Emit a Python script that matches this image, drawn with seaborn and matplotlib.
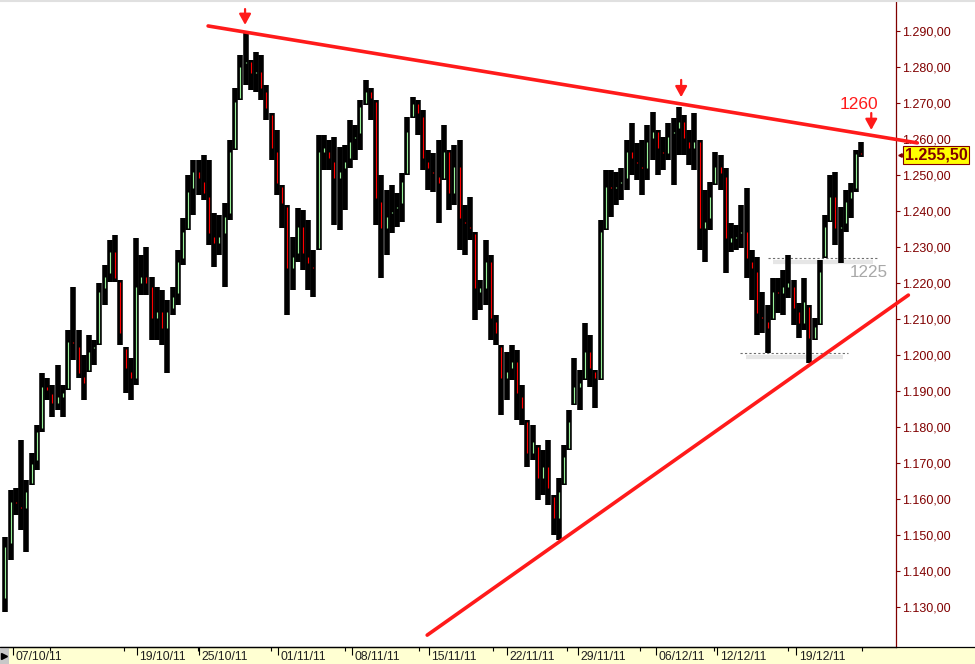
import numpy as np
import matplotlib
matplotlib.use("Agg")
import matplotlib.pyplot as plt
import seaborn as sns
from matplotlib.patches import Rectangle
from matplotlib.lines import Line2D
from matplotlib.transforms import blended_transform_factory, ScaledTranslation

sns.set_theme(style="white")
plt.rcParams['font.family'] = ['Liberation Sans', 'DejaVu Sans']

# intraday bars, 3 per session
open0 = 1131.9
high = [
    1149.4, 1162.4, 1163.0, 1176.3, 1165.2, 1172.7, 1180.5, 1195.0, 1193.6, 1191.6,
    1197.2, 1191.6, 1206.9, 1218.8, 1206.9, 1199.9, 1205.5, 1204.1, 1220.0, 1225.0,
    1231.9, 1233.3, 1220.8, 1202.2, 1199.1, 1232.5, 1227.7, 1230.0, 1221.6, 1218.8,
    1218.0, 1215.2, 1218.8, 1229.1, 1238.0, 1250.0, 1254.1, 1254.1, 1255.5, 1254.1,
    1239.4, 1238.9, 1242.2, 1259.7, 1274.1, 1283.3, 1289.4, 1281.9, 1284.2, 1283.3,
    1275.0, 1267.2, 1262.5, 1247.2, 1241.6, 1232.7, 1240.8, 1240.2, 1237.5, 1229.1,
    1261.1, 1261.1, 1259.7, 1260.5, 1257.8, 1258.3, 1265.3, 1263.9, 1270.8, 1276.4,
    1274.1, 1270.8, 1250.0, 1245.8, 1247.2, 1245.0, 1250.5, 1266.1, 1271.6, 1270.8,
    1268.0, 1256.9, 1256.1, 1259.7, 1263.9, 1256.9, 1258.3, 1259.7, 1241.6, 1243.8,
    1234.1, 1220.8, 1231.9, 1227.7, 1211.1, 1202.7, 1200.8, 1202.7, 1201.3, 1191.6,
    1181.9, 1180.5, 1174.9, 1173.5, 1176.3, 1161.0, 1165.8, 1174.9, 1184.7, 1199.1,
    1195.8, 1208.8, 1205.5, 1195.8, 1237.5, 1251.4, 1251.4, 1250.8, 1251.9, 1259.7,
    1264.4, 1258.9, 1259.7, 1263.9, 1267.5, 1262.5, 1260.5, 1264.4, 1265.8, 1268.9,
    1266.6, 1262.5, 1267.2, 1259.7, 1245.8, 1248.0, 1256.4, 1255.5, 1251.9, 1236.6,
    1236.1, 1241.6, 1246.4, 1229.1, 1227.2, 1217.5, 1213.8, 1221.3, 1221.3, 1223.6,
    1227.7, 1220.8, 1214.4, 1221.3, 1213.8, 1210.2, 1226.3, 1238.9, 1250.0, 1250.8,
    1241.1, 1245.8, 1247.7, 1256.9, 1259.1]
low = [
    1128.5, 1143.0, 1155.5, 1151.3, 1145.2, 1163.8, 1168.0, 1178.5, 1187.5, 1182.7,
    1184.7, 1182.7, 1190.2, 1198.6, 1193.6, 1187.5, 1195.2, 1197.2, 1202.7, 1213.8,
    1220.2, 1220.2, 1202.7, 1189.4, 1187.5, 1191.6, 1216.6, 1216.6, 1204.1, 1204.1,
    1202.7, 1195.0, 1211.1, 1213.8, 1225.0, 1234.7, 1238.9, 1244.4, 1243.0, 1230.5,
    1224.4, 1227.7, 1218.8, 1237.5, 1256.9, 1270.8, 1275.0, 1273.6, 1273.0, 1270.8,
    1265.3, 1254.1, 1244.4, 1235.2, 1211.1, 1218.0, 1225.8, 1223.6, 1218.0, 1216.1,
    1229.1, 1251.4, 1251.4, 1236.1, 1234.7, 1240.2, 1251.9, 1254.1, 1256.9, 1269.4,
    1265.3, 1236.1, 1221.3, 1227.7, 1233.9, 1235.5, 1236.9, 1250.0, 1265.8, 1261.1,
    1251.4, 1245.8, 1245.2, 1236.6, 1248.6, 1240.2, 1241.6, 1229.1, 1227.7, 1231.9,
    1209.7, 1212.5, 1213.8, 1204.1, 1202.7, 1183.3, 1187.5, 1193.0, 1181.9, 1180.5,
    1168.8, 1170.8, 1159.7, 1161.0, 1158.3, 1149.9, 1148.5, 1163.8, 1173.5, 1186.1,
    1184.7, 1193.0, 1191.1, 1185.2, 1193.0, 1234.7, 1238.3, 1241.6, 1243.0, 1245.8,
    1250.0, 1248.6, 1244.4, 1248.6, 1254.1, 1250.0, 1251.4, 1254.1, 1247.2, 1255.5,
    1255.5, 1252.7, 1251.4, 1229.1, 1225.8, 1234.7, 1247.2, 1245.8, 1222.7, 1228.6,
    1229.1, 1229.7, 1221.3, 1215.2, 1205.5, 1206.1, 1200.5, 1209.7, 1211.6, 1211.1,
    1215.8, 1208.3, 1204.7, 1206.9, 1197.7, 1204.1, 1208.3, 1226.9, 1236.9, 1230.5,
    1225.5, 1234.1, 1238.0, 1245.2, 1255.0]
close = [
    1147.1, 1159.7, 1158.3, 1156.9, 1162.4, 1170.2, 1179.1, 1191.6, 1189.7, 1186.1,
    1188.8, 1188.8, 1204.1, 1202.7, 1194.4, 1191.6, 1201.3, 1202.7, 1218.0, 1222.2,
    1229.1, 1220.8, 1205.5, 1195.8, 1193.0, 1219.4, 1222.2, 1219.4, 1209.7, 1212.5,
    1206.9, 1212.5, 1216.6, 1226.3, 1234.7, 1245.8, 1251.4, 1248.6, 1244.4, 1233.3,
    1230.5, 1233.3, 1238.9, 1256.9, 1270.8, 1280.5, 1281.9, 1277.8, 1279.1, 1273.6,
    1268.0, 1256.9, 1247.2, 1241.6, 1223.6, 1227.7, 1236.1, 1227.7, 1225.0, 1223.6,
    1256.9, 1256.9, 1254.1, 1248.6, 1251.4, 1254.1, 1259.7, 1261.1, 1269.4, 1273.6,
    1270.8, 1243.0, 1234.7, 1238.9, 1240.2, 1241.6, 1248.6, 1262.5, 1270.3, 1266.6,
    1254.1, 1251.4, 1250.0, 1247.2, 1256.9, 1244.4, 1252.7, 1237.5, 1236.1, 1234.7,
    1218.0, 1218.0, 1226.3, 1209.7, 1205.5, 1193.0, 1195.8, 1198.6, 1188.8, 1184.7,
    1172.2, 1176.3, 1165.2, 1169.4, 1162.4, 1154.1, 1162.4, 1172.2, 1181.9, 1191.6,
    1191.6, 1201.3, 1195.8, 1193.0, 1234.7, 1247.2, 1245.8, 1247.2, 1248.6, 1256.9,
    1254.1, 1252.7, 1251.4, 1259.7, 1262.5, 1256.9, 1255.5, 1261.1, 1262.5, 1265.3,
    1259.7, 1256.9, 1259.7, 1234.7, 1237.5, 1244.4, 1252.7, 1250.0, 1231.9, 1231.9,
    1233.3, 1234.7, 1226.3, 1223.6, 1211.1, 1209.7, 1206.9, 1218.0, 1216.6, 1219.4,
    1219.4, 1212.5, 1208.3, 1215.2, 1204.1, 1208.3, 1223.6, 1236.1, 1244.4, 1234.7,
    1236.1, 1243.0, 1245.8, 1256.4, 1255.5]

date_labels = ['07/10/11', '19/10/11', '25/10/11', '01/11/11', '08/11/11', '15/11/11',
               '22/11/11', '29/11/11', '06/12/11', '12/12/11', '19/12/11']
date_pos = [1.0, 8.9, 12.85, 17.9, 22.6, 27.55, 32.5, 37.05, 42.05, 45.95, 51.0]
price_ticks = list(range(1130, 1291, 10))

trend_top_x = [13.44, 58.73]
trend_top_y = [1291.4, 1258.9]
trend_bot_x = [27.43, 58.16]
trend_bot_y = [1122.1, 1216.6]
resist_level = 1226.9
support_level = 1200.5
last_price = 1255.5

W, H = 975, 664
fig = plt.figure(figsize=(W / 100, H / 100), dpi=100)
fig.patch.set_facecolor('white')
ax = fig.add_axes([0, 17 / H, 896 / W, 645 / H])
ax.set_facecolor('white')
ax.set_xlim(0.15, 57.37)
ax.set_ylim(1118.8, 1298.06)

hi = np.array(high)
lo = np.array(low)
cl = np.array(close)
op = np.concatenate([[open0], cl[:-1]])
x = 0.5 + np.arange(len(cl)) / 3.0

# support / resistance dashes with a soft shadow, behind bars
ax.plot([49.5, 55.9], [resist_level - 1.2] * 2, color='#e6e6e6', lw=3.0, zorder=1,
        solid_capstyle='butt')
ax.plot([49.17, 56.18], [resist_level] * 2, color='#6e6e6e', lw=0.8, ls=(0, (2, 2)), zorder=1.5)
ax.plot([47.8, 54.0], [support_level - 1.2] * 2, color='#e6e6e6', lw=3.0, zorder=1,
        solid_capstyle='butt')
ax.plot([47.42, 54.33], [support_level] * 2, color='#6e6e6e', lw=0.8, ls=(0, (2, 2)), zorder=1.5)

# candles: thick black range, thin coloured body
ax.vlines(x, lo, hi, color='black', lw=4.0, zorder=2)
b_lo = np.clip(np.minimum(op, cl), lo, hi)
b_hi = np.clip(np.maximum(op, cl), lo, hi)
up = cl >= op
ax.vlines(x[up], b_lo[up] + 0.5, b_hi[up] - 0.5, color='#98f098', lw=0.85, zorder=3)
ax.vlines(x[~up], b_lo[~up] + 0.5, b_hi[~up] - 0.5, color='#ff0000', lw=0.85, zorder=3)

# trend lines
sns.lineplot(x=trend_top_x, y=trend_top_y, ax=ax, color='#ff1a1a', linewidth=2.6,
             clip_on=False, zorder=4, legend=False)
sns.lineplot(x=trend_bot_x, y=trend_bot_y, ax=ax, color='#ff1a1a', linewidth=2.6,
             clip_on=False, zorder=4, legend=False)

# arrows and notes
arrow_kw = dict(arrowstyle='-|>,head_length=0.4,head_width=0.22', color='#ff1a1a',
                lw=1.6, mutation_scale=16, shrinkA=0, shrinkB=0)
for ax_x, y0, y1 in [(15.80, 1296.1, 1291.7), (43.65, 1276.4, 1271.6), (55.79, 1267.2, 1262.5)]:
    ax.annotate('', xy=(ax_x, y1), xytext=(ax_x, y0), arrowprops=arrow_kw,
                annotation_clip=False, zorder=5)
ax.text(55.02, 1269.6, '1260', color='#ff1a1a', fontsize=12.5, ha='center', va='center',
        zorder=5)
ax.text(54.40, 1223.0, '1225', color='#a8a8a8', fontsize=12.3, ha='left', va='center',
        zorder=5)

# last price tag on the axis
trans = blended_transform_factory(ax.transAxes, ax.transData)
ax.text(1 + 8.5 / 896, last_price, '1.255,50', transform=trans, ha='left', va='center',
        fontsize=11.5, fontweight='bold', color='#800000', clip_on=False, zorder=7,
        bbox=dict(boxstyle='square,pad=0.1', fc='#ffff00', ec='#800000', lw=0.8))
ax.plot([1 + 3.5 / 896], [last_price], marker='<', ms=2.5, color='#800000',
        transform=trans, clip_on=False, zorder=7)

# axes styling
for side in ['left', 'top']:
    ax.spines[side].set_visible(False)
ax.spines['right'].set_color('#800000')
ax.spines['right'].set_linewidth(0.9)
ax.spines['bottom'].set_color('black')
ax.spines['bottom'].set_linewidth(0.9)

ax.yaxis.tick_right()
ax.set_yticks(price_ticks, labels=[f"1.{v - 1000:03d},00" for v in price_ticks])
ax.tick_params(axis='y', which='major', direction='out', length=3, width=0.8,
               color='#800000', labelcolor='#800000', labelsize=9, pad=1.5, right=True,
               left=False)

ax.set_xticks(date_pos, labels=date_labels)
ax.set_xticks(np.arange(3.34, 57.3, 4.714), minor=True)
ax.tick_params(axis='x', which='major', direction='out', length=5.5, width=0.8,
               color='black', labelcolor='#202020', labelsize=8.7, pad=-2.5, bottom=True)
ax.tick_params(axis='x', which='minor', direction='out', length=3, width=0.8,
               color='black', bottom=True)
offset = ScaledTranslation(2.5 / 100, 0, fig.dpi_scale_trans)
for lab in ax.get_xticklabels():
    lab.set_horizontalalignment('left')
    lab.set_transform(lab.get_transform() + offset)
ax.grid(False)

# bottom band, top rule, scroll box
fig.add_artist(Rectangle((0, 0), 1, 17 / H, transform=fig.transFigure,
                         fc='#ffffd2', ec='none', zorder=0))
fig.add_artist(Line2D([0, 1], [17 / H, 17 / H], transform=fig.transFigure,
                      color='black', lw=0.9))
fig.add_artist(Line2D([0, 1], [1 - 1 / H, 1 - 1 / H], transform=fig.transFigure,
                      color='#e0e0e0', lw=1.5))
fig.add_artist(Rectangle((0, 0), 9 / W, 16 / H, transform=fig.transFigure,
                         fc='#c8c8c8', ec='none'))
fig.add_artist(Line2D([4 / W], [8 / H], transform=fig.transFigure, marker='>',
                      ms=4, color='black', lw=0))

fig.savefig('out.png', dpi=100)
